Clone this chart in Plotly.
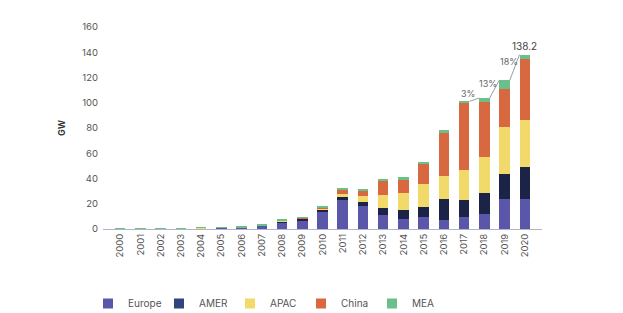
import plotly.graph_objects as go

years = list(range(2000, 2021))
year_labels = [str(y) for y in years]

europe = [0.2, 0.2, 0.2, 0.3, 0.6, 0.8, 1.0, 2.4, 5.5, 6.6, 13.7, 22.6, 17.9, 11.1, 7.9, 9.2, 6.8, 9.5, 11.5, 23.7, 23.9]
amer   = [0.0, 0.0, 0.0, 0.1, 0.1, 0.2, 0.2, 0.3, 0.8, 1.5, 1.0, 2.4, 3.1, 5.2, 7.3, 8.4, 16.9, 13.6, 16.9, 19.7, 25.6]
apac   = [0.0, 0.0, 0.0, 0.0, 0.1, 0.1, 0.1, 0.2, 0.5, 0.6, 1.6, 2.9, 5.5, 11.0, 13.5, 18.4, 18.4, 23.7, 28.5, 37.2, 36.8]
china  = [0.0, 0.0, 0.0, 0.0, 0.0, 0.0, 0.1, 0.1, 0.3, 0.3, 1.0, 3.1, 4.0, 10.9, 10.8, 15.6, 33.7, 52.7, 43.6, 30.0, 48.0]
mea    = [0.3, 0.3, 0.3, 0.3, 0.2, 0.3, 0.3, 0.2, 0.5, 0.5, 0.6, 0.8, 0.8, 0.7, 1.3, 1.3, 2.4, 1.6, 3.2, 7.3, 3.9]

series_names = ["Europe", "AMER", "APAC", "China", "MEA"]
bar_colors = ["#5a56a9", "#1b2447", "#f1d96a", "#d8683f", "#6bbf8a"]
legend_colors = ["#5a56a9", "#2f4580", "#f1d96a", "#d8683f", "#6bbf8a"]

growth_years = [2017, 2018, 2019]
growth_labels = ["3%", "13%", "18%"]
total_label = "138.2"

series = [europe, amer, apac, china, mea]
totals = [sum(v) for v in zip(*series)]

font_family = "Inter, Open Sans, sans-serif"
fig = go.Figure()

bar_w = 0.52
for name, vals, col in zip(series_names, series, bar_colors):
    fig.add_trace(go.Bar(x=years, y=vals, name=name, marker_color=col,
                         marker_line_width=0, width=bar_w, showlegend=False))

# growth connector lines
lx, ly = [], []
for gy in growth_years:
    i = years.index(gy)
    lx += [years[i] + bar_w / 2, years[i + 1] - bar_w / 2, None]
    ly += [totals[i], totals[i + 1], None]
fig.add_trace(go.Scatter(x=lx, y=ly, mode="lines", line=dict(color="#9c9cab", width=1),
                         showlegend=False, hoverinfo="skip"))

for gy, lab in zip(growth_years, growth_labels):
    i = years.index(gy)
    fig.add_annotation(x=(years[i] + years[i + 1]) / 2, y=(totals[i] + totals[i + 1]) / 2,
                       text=lab, showarrow=False, xshift=-6, yshift=6,
                       font=dict(family=font_family, size=9, color="#666"))

fig.add_annotation(x=years[-1], y=totals[-1], text=total_label, showarrow=False,
                   yanchor="bottom", yshift=1,
                   font=dict(family=font_family, size=10, color="#444"))

for name, col in zip(series_names, legend_colors):
    fig.add_trace(go.Scatter(x=[None], y=[None], mode="markers", name=name,
                             marker=dict(symbol="square", size=10, color=col)))

# page body has an 8px default margin, so the figure is drawn 8px smaller
W, H = 615, 305
fig.update_layout(
    width=W, height=H,
    margin=dict(l=95, r=81, t=19, b=84, autoexpand=False),
    barmode="stack",
    plot_bgcolor="white", paper_bgcolor="white",
    font=dict(family=font_family, size=10, color="#555"),
    showlegend=True,
    legend=dict(orientation="h", traceorder="normal",
                xref="container", x=80 / W, xanchor="left",
                yref="container", y=1 - 281 / H, yanchor="top",
                font=dict(size=10, color="#555"), itemwidth=30, entrywidth=26),
)
fig.update_xaxes(range=[1999.15, 2020.85], tickmode="array", tickvals=years, ticktext=year_labels,
                 tickangle=-90, showgrid=False, zeroline=False, showline=True, automargin=False,
                 linecolor="#b4b3cc", linewidth=1, ticks="", tickfont=dict(size=9.5, color="#555"))
fig.update_yaxes(range=[0, 160], dtick=20, showgrid=False, zeroline=False, showline=False,
                 ticks="", automargin=False, ticklabelstandoff=4, tickfont=dict(size=9.5, color="#555"),
                 title=dict(text="<b>GW</b>", font=dict(size=9, color="#333"), standoff=14))

fig.write_html("out.html")
